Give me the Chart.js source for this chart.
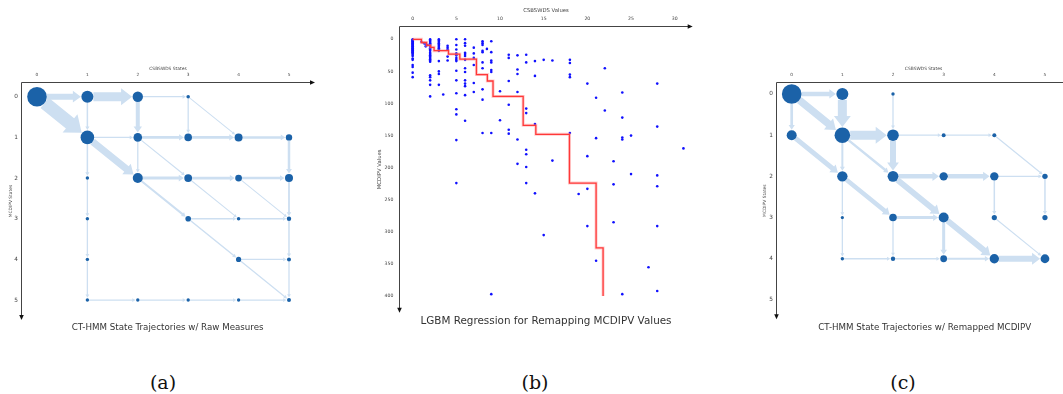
<!DOCTYPE html>
<html>
<head>
<meta charset="utf-8">
<script src="https://cdn.jsdelivr.net/npm/chart.js@4.4.1/dist/chart.umd.min.js"></script>
<style>
html,body{margin:0;padding:0;background:#fff;}
#wrap{position:relative;width:1063px;height:394px;overflow:hidden;background:#fff;}
canvas{position:absolute;}
.t{position:absolute;transform:translate(-50%,-50%);white-space:nowrap;font-family:"DejaVu Sans",sans-serif;color:#333;line-height:1;}
.cap{font-family:"DejaVu Serif",serif;font-size:19px;color:#111;}
</style>
</head>
<body>
<div id="wrap">
  <canvas id="ca" width="330" height="280" style="left:0px;top:50px"></canvas>
  <canvas id="cb" width="345" height="330" style="left:360px;top:0px"></canvas>
  <canvas id="cc" width="345" height="280" style="left:740px;top:50px"></canvas>
  <div class="t" style="left:167.7px;top:326.7px;font-size:8.7px">CT-HMM State Trajectories w/ Raw Measures</div>
  <div class="t" style="left:546px;top:320px;font-size:10.4px">LGBM Regression for Remapping MCDIPV Values</div>
  <div class="t" style="left:924.7px;top:327px;font-size:8.7px">CT-HMM State Trajectories w/ Remapped MCDIPV</div>
  <div class="t cap" style="left:163px;top:382px">(a)</div>
  <div class="t cap" style="left:535px;top:382px">(b)</div>
  <div class="t cap" style="left:903px;top:382px">(c)</div>
</div>
<script>
// ---------------- DATA ----------------
const stateTicks = [0, 1, 2, 3, 4, 5];

// Panel (a): state nodes (CSBSWDS state, MCDIPV state, node radius)
const nodeXA = [0,1,2,3, 1,2,3,4,5, 1,2,3,4,5, 1,3,4,5, 1,4,5, 1,2,3,4,5];
const nodeYA = [0,0,0,0, 1,1,1,1,1, 2,2,2,2,2, 3,3,3,3, 4,4,4, 5,5,5,5,5];
const nodeRA = [9.8,6,5.2,1.8, 6.8,4.3,3.8,4,3.2, 1.7,5,3.9,3.4,4, 1.7,2.8,1.8,2.2, 1.7,2.6,2, 1.7,1.7,1.7,1.7,2];
// Panel (a): transitions [fromX, fromY, toX, toY, width]
const edgesA = [
  [0,0,1,0,6],[1,0,2,0,9],[0,0,1,1,13],[1,0,1,1,1.5],[2,0,2,1,4],[2,0,3,0,1.3],
  [3,0,3,1,1.3],[3,0,4,1,1],[1,1,2,1,1.3],[1,1,2,2,7],[1,1,1,2,1.5],[1,2,1,3,1.3],
  [1,3,1,4,1.3],[1,4,1,5,1.3],[2,1,3,1,2.8],[3,1,4,1,2.8],[4,1,5,1,2.5],[5,1,5,2,2.5],
  [2,1,2,2,1.3],[2,1,3,2,1.2],[2,2,3,2,3],[3,2,4,2,2.8],[4,2,5,2,2.5],[2,2,3,3,2],
  [3,3,4,4,1.5],[4,4,5,5,1.3],[3,2,4,3,1],[4,2,5,3,1],[3,3,4,3,1.3],[4,3,5,3,1.3],
  [5,2,5,3,1.8],[5,3,5,4,1.5],[5,4,5,5,1.3],[4,4,5,4,1.3],[1,5,2,5,1.3],[2,5,3,5,1.3],
  [3,5,4,5,1.3],[4,5,5,5,1.3]
];

// Panel (c): state nodes after remapping
const nodeXC = [0,1,2, 0,1,2,3,4, 1,2,3,4,5, 1,2,3,4,5, 1,2,3,4,5];
const nodeYC = [0,0,0, 1,1,1,1,1, 2,2,2,2,2, 3,3,3,3,3, 4,4,4,4,4];
const nodeRC = [9.8,6,1.7, 5,7.8,5.8,2,2, 5.2,5.4,4.2,4.2,2.7, 1.6,3.8,5,2.6,2.6, 1.7,2.2,3.4,4.7,4.4];
const edgesC = [
  [0,0,1,0,4.5],[0,0,0,1,2.7],[0,0,1,1,7.5],[1,0,1,1,9],[2,0,2,1,1.3],[0,1,1,2,5],
  [1,1,2,1,9],[1,1,1,2,2],[1,1,2,2,2.5],[2,1,3,1,1.3],[3,1,4,1,1.3],[4,1,5,2,1.2],
  [2,1,2,2,6],[1,2,2,3,4.5],[1,2,1,3,1.3],[1,3,1,4,1.3],[2,2,3,2,4.5],[3,2,4,2,4.5],
  [4,2,5,2,1.3],[2,2,3,3,6],[2,3,3,3,3],[2,3,2,4,1.3],[3,3,3,4,3],[3,3,4,4,6],
  [4,4,5,4,6],[4,2,4,3,1.5],[5,2,5,3,1.5],[4,3,5,4,1.2],[1,4,2,4,1.3],[2,4,3,4,1.3],
  [3,4,4,4,2.2]
];

// Panel (b): observed (CSBSWDS, MCDIPV) values grouped by CSBSWDS value
const obsColX = [0, 1, 1.3, 1.5, 1.7, 2, 3, 3.5, 4, 5, 6, 7, 8, 8.5, 9, 10, 11, 12, 13, 14, 15, 16, 18, 19, 20, 21, 22, 23, 24, 25, 27, 28, 31];
const obsColY = [
  [0,1,2,3,4,5,6,7,8,9,10,11,12,13,14,15,16,17,18,19,20,21,22,24,26,30,32,40,43,52,59],
  [4],
  [6],
  [8,11],
  [9],
  [0,2,4,6,8,10,12,14,16,18,21,23,25,27,29,31,33,35,56,59,64,71,89],
  [0,2,4,6,8,10,12,14,16,18,34,50,54,71],
  [86],
  [10,13,16,27,33],
  [0,9,16,22,25,29,32,34,49,64,84,109,117,157,224],
  [0,6,10,21,23,26,32,45,51,64,69,73,87,127],
  [13,22,29,40,68,82],
  [3,6,9,18,20,36,45,78,94,146],
  [15],
  [3,20,33,36,48,51,146,397],
  [81,126],
  [24,29,65,102,141,147],
  [25,47,54,82,156,194],
  [24,36,108,115,172,179,199,224],
  [34,57,132,240],
  [32,305],
  [33,189],
  [32,37,55,59,146],
  [241],
  [69,182,233,291],
  [91,154,345],
  [45,111],
  [190,226,285],
  [83,122,153,156,397],
  [150,210],
  [355],
  [69,136,212,229,291,392],
  [170]
];
// LGBM regression step function
const stepX = [0, 1.0, 1.6, 2.05, 2.45, 4.1, 5.4, 7.3, 8.55, 9.2, 12.65, 14.1, 17.95, 21.0, 21.8];
const stepY = [0, 5, 9.5, 12.5, 17.7, 23, 31, 55, 65, 89, 134, 148, 224, 325, 400];
const valueTicksX = [0, 5, 10, 15, 20, 25, 30];
const valueTicksY = [0, 50, 100, 150, 200, 250, 300, 350, 400];

// ---------------- STYLE ----------------
const FONT = "'DejaVu Sans', sans-serif";
const NODE = '#1b62a8';
const EDGE = '#cddff1';
const TXT = '#444';

const axesPlugin = {
  id: 'axesArrows',
  afterDraw(chart) {
    const {ctx, chartArea: a} = chart;
    ctx.save();
    ctx.strokeStyle = '#444';
    ctx.fillStyle = '#111';
    ctx.lineWidth = 1;
    const t = Math.round(a.top) + 0.5, l = Math.round(a.left) + 0.5;
    ctx.beginPath();
    ctx.moveTo(l, t); ctx.lineTo(a.right - 3, t);
    ctx.moveTo(l, t); ctx.lineTo(l, a.bottom - 3);
    ctx.stroke();
    ctx.beginPath();
    ctx.moveTo(a.right, t); ctx.lineTo(a.right - 5, t - 2.3); ctx.lineTo(a.right - 5, t + 2.3);
    ctx.closePath(); ctx.fill();
    ctx.beginPath();
    ctx.moveTo(l, a.bottom); ctx.lineTo(l - 2.3, a.bottom - 5); ctx.lineTo(l + 2.3, a.bottom - 5);
    ctx.closePath(); ctx.fill();
    ctx.restore();
  }
};

function netChart(id, nx, ny, nr, edges, g) {
  const rOf = (x, y) => {
    for (let i = 0; i < nx.length; i++) if (nx[i] === x && ny[i] === y) return nr[i];
    return 0;
  };
  const edgePlugin = {
    id: 'edges_' + id,
    beforeDatasetsDraw(chart) {
      const ctx = chart.ctx, xs = chart.scales.x, ys = chart.scales.y;
      ctx.save();
      ctx.fillStyle = EDGE;
      for (const [x1, y1, x2, y2, w] of edges) {
        const p1x = xs.getPixelForValue(x1), p1y = ys.getPixelForValue(y1);
        const p2x = xs.getPixelForValue(x2), p2y = ys.getPixelForValue(y2);
        const dx = p2x - p1x, dy = p2y - p1y, L = Math.hypot(dx, dy);
        const ux = dx / L, uy = dy / L, nxv = -uy, nyv = ux;
        const r1 = rOf(x1, y1), r2 = rOf(x2, y2);
        const sx = p1x + ux * r1, sy = p1y + uy * r1;
        const ex = p2x - ux * (r2 + 0.5), ey = p2y - uy * (r2 + 0.5);
        const hw = w * 0.85 + 0.8, hl = w * 1.0 + 2;
        const bx = ex - ux * hl, by = ey - uy * hl;
        const h = w / 2;
        ctx.beginPath();
        ctx.moveTo(sx + nxv * h, sy + nyv * h);
        ctx.lineTo(bx + nxv * h, by + nyv * h);
        ctx.lineTo(bx + nxv * hw, by + nyv * hw);
        ctx.lineTo(ex, ey);
        ctx.lineTo(bx - nxv * hw, by - nyv * hw);
        ctx.lineTo(bx - nxv * h, by - nyv * h);
        ctx.lineTo(sx - nxv * h, sy - nyv * h);
        ctx.closePath();
        ctx.fill();
      }
      ctx.restore();
    }
  };
  return new Chart(document.getElementById(id), {
    type: 'bubble',
    data: {
      datasets: [{
        data: nx.map((x, i) => ({x: x, y: ny[i], r: nr[i]})),
        backgroundColor: NODE, borderWidth: 0, hoverBorderWidth: 0, hoverRadius: 0, clip: false
      }]
    },
    options: {
      responsive: false, animation: false, events: [], devicePixelRatio: 1,
      layout: {autoPadding: false, padding: {left: 0, top: 0, right: g.padR, bottom: g.padB}},
      plugins: {legend: {display: false}, tooltip: {enabled: false}},
      scales: {
        x: {
          type: 'linear', position: 'top', min: g.xmin, max: g.xmax, bounds: 'data',
          grid: {display: false, drawTicks: false}, border: {display: false},
          ticks: {padding: 4.5, font: {family: FONT, size: 4.3}, color: TXT, autoSkip: false, maxRotation: 0},
          title: {display: true, text: 'CSBSWDS States', font: {family: FONT, size: 4.4}, color: TXT, padding: {top: 16.4, bottom: 0}},
          afterBuildTicks: s => { s.ticks = stateTicks.map(v => ({value: v})); },
          afterFit: s => { s.height = g.xh; }
        },
        y: {
          type: 'linear', position: 'left', reverse: true, min: g.ymin, max: g.ymax, bounds: 'data',
          grid: {display: false, drawTicks: false}, border: {display: false},
          ticks: {padding: 3, font: {family: FONT, size: 5.8}, color: TXT, autoSkip: false},
          title: {display: true, text: 'MCDIPV States', font: {family: FONT, size: 4.4}, color: TXT, padding: {top: g.ytp, bottom: 0}},
          afterBuildTicks: s => { s.ticks = stateTicks.map(v => ({value: v})); },
          afterFit: s => { s.width = g.yw; }
        }
      }
    },
    plugins: [edgePlugin, axesPlugin]
  });
}

// Panel (a)
netChart('ca', nodeXA, nodeYA, nodeRA, edgesA,
  {xmin: -0.317, xmax: 5.516, ymin: -0.362, ymax: 5.49, padR: 15, padB: 10, xh: 32, yw: 21, ytp: 8});
// Panel (c)
netChart('cc', nodeXC, nodeYC, nodeRC, edgesC,
  {xmin: -0.31, xmax: 5.516, ymin: -0.291, ymax: 5.47, padR: 13.9, padB: 10.7, xh: 32, yw: 36, ytp: 22.4});

// Panel (b)
const obsPoints = [];
obsColX.forEach((x, i) => obsColY[i].forEach(y => obsPoints.push({x: x, y: y})));
const stepPoints = stepX.map((x, i) => ({x: x, y: stepY[i]}));

new Chart(document.getElementById('cb'), {
  type: 'scatter',
  data: {
    datasets: [
      {type: 'line', data: stepPoints, stepped: true, borderColor: '#ff3838', borderWidth: 1.3, pointRadius: 0, fill: false, order: 0},
      {type: 'line', data: stepPoints, stepped: true, borderColor: 'rgba(255,140,140,0.45)', borderWidth: 3, pointRadius: 0, fill: false, order: 1},
      {data: obsPoints, backgroundColor: '#1010ff', borderWidth: 0, pointRadius: 1.3, pointHoverRadius: 1.3, order: 2}
    ]
  },
  options: {
    responsive: false, animation: false, events: [], devicePixelRatio: 1,
    layout: {autoPadding: false, padding: {left: 0, top: 0, right: 12.3, bottom: 17.3}},
    plugins: {legend: {display: false}, tooltip: {enabled: false}},
    scales: {
      x: {
        type: 'linear', position: 'top', min: -1.53, max: 32.06, bounds: 'data',
        grid: {display: false, drawTicks: false}, border: {display: false},
        ticks: {padding: 4, font: {family: FONT, size: 4.6}, color: TXT, autoSkip: false, maxRotation: 0},
        title: {display: true, text: 'CSBSWDS Values', font: {family: FONT, size: 5.3}, color: TXT, padding: {top: 7.8, bottom: 0}},
        afterBuildTicks: s => { s.ticks = valueTicksX.map(v => ({value: v})); },
        afterFit: s => { s.height = 26; }
      },
      y: {
        type: 'linear', position: 'left', reverse: true, min: -20.7, max: 425.9, bounds: 'data',
        grid: {display: false, drawTicks: false}, border: {display: false},
        ticks: {padding: 6, font: {family: FONT, size: 4.6}, color: TXT, autoSkip: false},
        title: {display: true, text: 'MCDIPV Values', font: {family: FONT, size: 5.3}, color: TXT, padding: {top: 16.8, bottom: 0}},
        afterBuildTicks: s => { s.ticks = valueTicksY.map(v => ({value: v})); },
        afterFit: s => { s.width = 39.3; }
      }
    }
  },
  plugins: [axesPlugin]
});
</script>
</body>
</html>
